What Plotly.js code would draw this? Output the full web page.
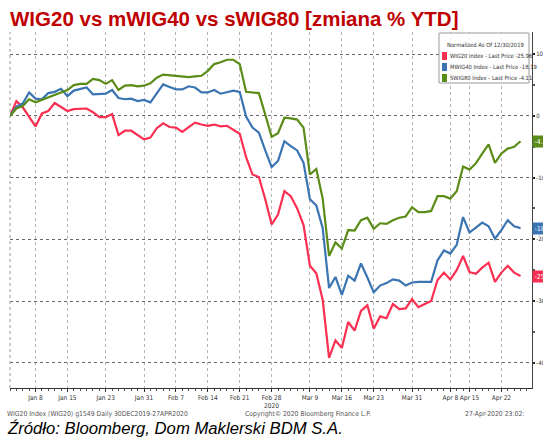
<!DOCTYPE html>
<html><head><meta charset="utf-8">
<script src="https://cdn.plot.ly/plotly-3.0.1.min.js"></script>
<style>html,body{margin:0;padding:0;background:#fff}#chart{width:543px;height:438px}</style>
</head><body><div id="chart"></div>
<script>
// Trading days (Warsaw Stock Exchange), normalized as of 12/30/2019
const dates = ['2019-12-30',
 '2020-01-02','2020-01-03','2020-01-07','2020-01-08','2020-01-09','2020-01-10','2020-01-13','2020-01-14','2020-01-15','2020-01-16','2020-01-17','2020-01-20','2020-01-21','2020-01-22','2020-01-23','2020-01-24','2020-01-27','2020-01-28','2020-01-29','2020-01-30','2020-01-31',
 '2020-02-03','2020-02-04','2020-02-05','2020-02-06','2020-02-07','2020-02-10','2020-02-11','2020-02-12','2020-02-13','2020-02-14','2020-02-17','2020-02-18','2020-02-19','2020-02-20','2020-02-21','2020-02-24','2020-02-25','2020-02-26','2020-02-27','2020-02-28',
 '2020-03-02','2020-03-03','2020-03-04','2020-03-05','2020-03-06','2020-03-09','2020-03-10','2020-03-11','2020-03-12','2020-03-13','2020-03-16','2020-03-17','2020-03-18','2020-03-19','2020-03-20','2020-03-23','2020-03-24','2020-03-25','2020-03-26','2020-03-27','2020-03-30','2020-03-31',
 '2020-04-01','2020-04-02','2020-04-03','2020-04-06','2020-04-07','2020-04-08','2020-04-09','2020-04-14','2020-04-15','2020-04-16','2020-04-17','2020-04-20','2020-04-21','2020-04-22','2020-04-23','2020-04-24','2020-04-27'];

const wig20 = [0,2.4,1.4,-0.2,-1.7,0.4,0.8,2.1,1.5,0.8,
 1.1,1.2,1.2,0.6,-0.2,-0.2,0.3,-3.1,-2.4,-2.4,
 -3.1,-3.8,-3.5,-2.0,-1.2,-1.8,-1.9,-2.6,-1.8,-1.1,
 -1.4,-1.6,-1.4,-1.7,-1.6,-2.2,-2.9,-6.7,-9.5,-9.9,
 -13.5,-17.6,-16.0,-12.2,-13.0,-15.0,-17.7,-24.3,-25.5,-29.8,
 -39.2,-36.4,-37.6,-33.4,-34.8,-31.6,-30.7,-34.5,-32.5,-32.8,
 -30.5,-31.3,-31.2,-29.7,-31.0,-30.5,-30.0,-26.6,-25.4,-26.5,
 -25.0,-22.7,-25.3,-25.6,-24.6,-23.8,-26.9,-25.4,-24.3,-25.4,-25.96];

const mwig40 = [0,1.5,2.0,3.8,2.8,2.7,3.7,3.9,4.4,3.2,
 4.1,4.4,4.6,3.5,3.5,3.6,4.2,2.9,2.7,2.8,
 2.4,2.6,2.2,3.7,5.1,4.7,4.3,4.3,4.8,4.6,
 3.8,3.8,4.2,3.6,3.9,4.1,3.9,-0.1,-1.9,-2.7,
 -5.6,-8.3,-7.3,-4.1,-4.9,-5.6,-7.6,-13.5,-14.5,-18.2,
 -27.9,-26.1,-29.0,-25.9,-26.7,-23.9,-26.2,-28.6,-27.5,-27.1,
 -26.5,-26.7,-27.5,-27.0,-26.9,-26.9,-26.9,-23.4,-21.8,-22.3,
 -20.9,-16.4,-18.9,-18.1,-17.3,-17.9,-19.9,-18.5,-16.9,-17.9,-18.19];

const swig80 = [0,1.2,1.6,2.7,2.2,2.6,3.1,3.4,3.8,4.2,
 5.0,5.2,5.2,6.0,5.8,5.2,5.8,4.2,4.9,5.0,
 4.8,4.9,5.3,6.2,6.7,6.6,6.5,6.4,6.3,6.4,
 6.5,7.3,8.4,8.7,9.1,9.1,8.4,3.9,3.8,3.7,
 0.2,-3.4,-2.8,-0.3,-0.4,-0.6,-1.9,-9.5,-8.6,-13.4,
 -22.7,-20.5,-21.5,-18.5,-18.6,-16.9,-16.5,-18.3,-17.4,-17.5,
 -16.9,-16.5,-16.3,-14.8,-15.6,-15.6,-15.4,-13.0,-13.0,-13.4,
 -12.2,-8.2,-8.7,-7.7,-6.1,-4.6,-7.6,-6.1,-5.3,-5.0,-4.11];

const tickDates = ['2020-01-08','2020-01-15','2020-01-23','2020-01-31','2020-02-07','2020-02-14','2020-02-21','2020-02-28','2020-03-09','2020-03-16','2020-03-23','2020-03-31','2020-04-08','2020-04-15','2020-04-22'];
const tickLabels = ['Jan 8','Jan 15','Jan 23','Jan 31','Feb 7','Feb 14','Feb 21','Feb 28','Mar 9','Mar 16','Mar 23','Mar 31','Apr 8','Apr 15','Apr 22'];
const yTicks = [10,0,-10,-20,-30,-40];
const seriesNames = ['WIG20 Index','MWIG40 Index','SWIG80 Index'];

// ---- styles / layout helpers ----
const colors = ['#FA2F52','#3A74B2','#5A8C17'];
const narrow = 'Liberation Sans Narrow, DejaVu Sans Condensed, Arial Narrow, sans-serif';
const W = 543, H = 438, ML = 10, MR = 11, MT = 32, MB = 50;
const px = x => (x - ML) / (W - ML - MR);
const py = y => (H - MB - y) / (H - MT - MB);

const xIdx = dates.map((d, i) => i);
const series = [wig20, mwig40, swig80];
const traces = series.map((s, k) => ({
  type: 'scatter', mode: 'lines', x: xIdx, y: s, customdata: dates,
  name: seriesNames[k], line: {color: colors[k], width: 2.2},
  hovertemplate: '%{customdata}: %{y:.2f}<extra>' + seriesNames[k] + '</extra>'
}));

const fmt = v => (v < 0 ? '-' : '') + Math.abs(v).toFixed(2);
const last = series.map(s => s[s.length - 1]);

const shapes = [
  {type:'line', xref:'paper', yref:'paper', x0:0, x1:0, y0:0, y1:1, line:{color:'#999', width:1, dash:'dot'}},
  {type:'rect', xref:'paper', yref:'paper', x0:px(439), x1:px(529), y0:py(83), y1:py(33),
   fillcolor:'rgba(255,255,255,0.85)', line:{color:'#9a9a9a', width:1}, layer:'above'}
];
const annotations = [
  {xref:'paper', yref:'paper', x:px(485), y:py(45), text:'Normalized As Of 12/30/2019', showarrow:false,
   font:{family:narrow, size:5.8, color:'#333'}, xanchor:'center', yanchor:'middle'}
];
const entryY = [56, 67, 78];
seriesNames.forEach((n, k) => {
  shapes.push({type:'rect', xref:'paper', yref:'paper', x0:px(442), x1:px(447), y0:py(entryY[k]+4), y1:py(entryY[k]-4),
    fillcolor:colors[k], line:{width:0}, layer:'above'});
  annotations.push({xref:'paper', yref:'paper', x:px(448), y:py(entryY[k]), xanchor:'left', yanchor:'middle',
    text: n + ' - Last Price ' + fmt(last[k]), showarrow:false, font:{family:narrow, size:5.8, color:'#333'}});
  annotations.push({xref:'paper', yref:'y', x:1, y:last[k], xanchor:'left', yanchor:'middle', xshift:0,
    text: fmt(last[k]), showarrow:false, bgcolor:colors[k], borderpad:1.5,
    font:{family:narrow, size:7, color:'#fff'}});
});
annotations.push(
  {xref:'x', yref:'paper', x:dates.indexOf('2020-02-28'), y:py(406), text:'2020', showarrow:false,
   font:{family:narrow, size:6.5, color:'#333'}, yanchor:'middle'},
  {xref:'paper', yref:'paper', x:px(5), y:py(414), xanchor:'left', yanchor:'middle', showarrow:false,
   text:'WIG20 Index (WIG20) g1549 Daily 30DEC2019-27APR2020', font:{family:narrow, size:6.8, color:'#555'}},
  {xref:'paper', yref:'paper', x:px(308), y:py(414), xanchor:'center', yanchor:'middle', showarrow:false,
   text:'Copyright© 2020 Bloomberg Finance L.P.', font:{family:narrow, size:6.8, color:'#555'}},
  {xref:'paper', yref:'paper', x:px(463), y:py(414), xanchor:'left', yanchor:'middle', showarrow:false,
   text:'27-Apr-2020 23:02:', font:{family:narrow, size:6.8, color:'#555'}},
  {xref:'paper', yref:'paper', x:px(5), y:py(428), xanchor:'left', yanchor:'middle', showarrow:false,
   text:'<i>Źródło: Bloomberg, Dom Maklerski BDM S.A.</i>', font:{family:'Liberation Sans, Arial, sans-serif', size:16.7, color:'#000'}}
);

const layout = {
  width: W, height: H, margin: {l:ML, r:MR, t:MT, b:MB, pad:0},
  paper_bgcolor:'#fff', plot_bgcolor:'#fff', showlegend:false,
  title: {text:'<b>WIG20 vs mWIG40 vs sWIG80 [zmiana % YTD]</b>', xref:'container', yref:'container',
    x: 10/W, xanchor:'left', y: 1 - 19/H, yanchor:'middle',
    font:{family:'Liberation Sans, Arial, sans-serif', size:20.5, color:'#C00000'}},
  xaxis: {type:'linear', range:[0, 81.8], tickvals: tickDates.map(d => dates.indexOf(d)), ticktext: tickLabels,
    tickangle:0, showgrid:true, gridcolor:'#b5b5b5', griddash:'dot', gridwidth:1, zeroline:false,
    showline:true, linecolor:'#333', linewidth:1, ticks:'outside', ticklen:3, tickcolor:'#333',
    minor:{dtick:1, tick0:0, ticks:'outside', ticklen:2, tickcolor:'#555', showgrid:false},
    tickfont:{family:narrow, size:6.5, color:'#333'}, fixedrange:true},
  yaxis: {side:'right', range:[-44.1, 13.6], tickvals:yTicks, ticktext:yTicks.map(v => String(v)),
    showgrid:true, gridcolor:'#666', griddash:'dot', gridwidth:1, zeroline:false,
    showline:true, linecolor:'#444', linewidth:1, ticks:'outside', ticklen:2, tickcolor:'#222', tickwidth:2,
    minor:{dtick:5, tick0:0, ticks:'outside', ticklen:2, tickcolor:'#555', showgrid:false},
    tickfont:{family:narrow, size:6, color:'#333'}, fixedrange:true},
  shapes, annotations
};
Plotly.newPlot('chart', traces, layout, {displayModeBar:false, staticPlot:true});
</script></body></html>
